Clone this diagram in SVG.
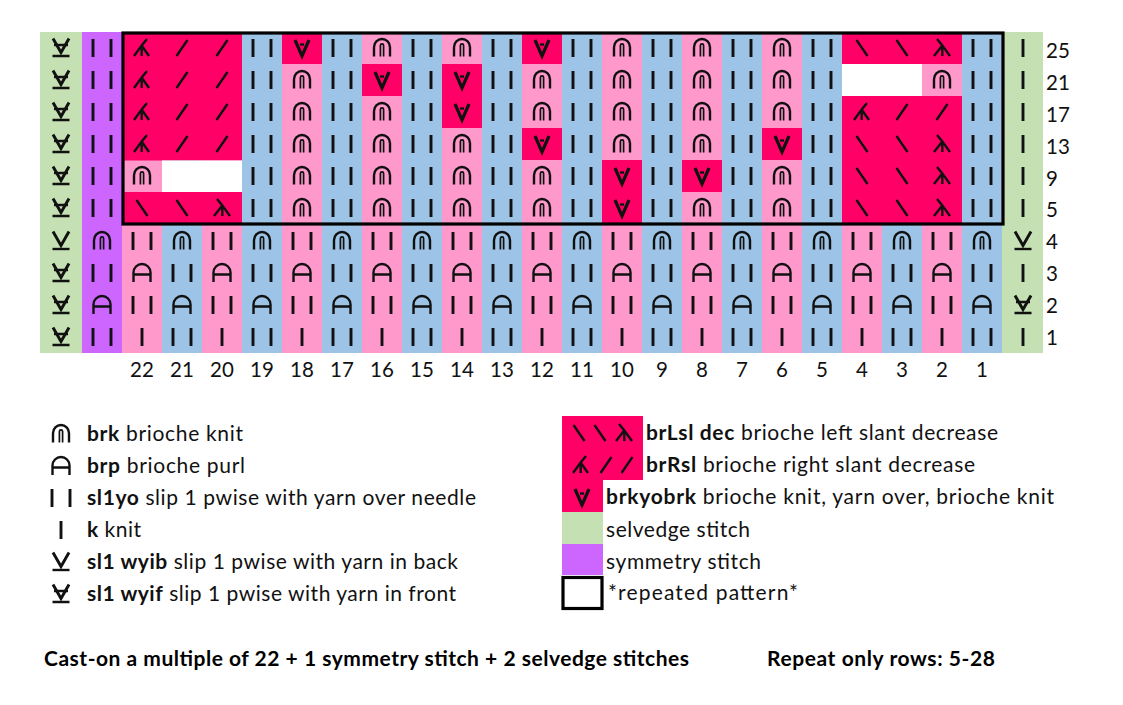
<svg xmlns="http://www.w3.org/2000/svg" width="1123" height="705" viewBox="0 0 1123 705">
<style>
text{font-family:Lato,"Noto Sans","Liberation Sans",sans-serif;font-size:21px;fill:#111}
#row-numbers text,#column-numbers text{font-size:20.5px}
.b{font-weight:700}
.bt{font-weight:700;fill:#000}
.c{text-anchor:middle}
.s{fill:none;stroke:#111;stroke-width:2.4}
.s1{fill:none;stroke:#111;stroke-width:1.7}
.s2{fill:none;stroke:#111;stroke-width:2.9}
.pink{fill:#FF99CC}.blue{fill:#9DC3E6}.red{fill:#FF0066}.white{fill:#fff}.green{fill:#C5E0B3}.purple{fill:#CC66FF}
.frame{fill:none;stroke:#000;stroke-width:3.2}
</style>
<defs>
<g id="bars"><path class="s2" d="M-9-9V9M9-9V9"/></g>
<g id="k"><path class="s2" d="M0-9V9"/></g>
<g id="brk"><path class="s" d="M-8 8.500V-1A8 8 0 0 1 8-1V8.500"/><path class="s1" d="M-1.600 8.500V-2.500A1.600 1.600 0 0 1 1.600-2.500V8.500"/></g>
<g id="brp"><path class="s" d="M-8.500 9V-.5A8.500 8.500 0 0 1 8.500-.5V9M-8.500 1.500H8.500"/></g>
<g id="wyib"><path class="s2" d="M-8-9.500L0 4.500L8-9.500"/><path class="s" d="M-8.500 8H8.500"/></g>
<g id="wyif"><path class="s2" d="M-8-9.500L0 4.500L8-9.500"/><path class="s" d="M-7-3H7M-8.500 8H8.500"/></g>
<g id="yo"><path class="s2" style="stroke-width:3.2" d="M-7-8L0 8L7-8"/><path class="s" d="M-2-3.500H2"/></g>
<g id="sl"><path class="s" d="M-5.500 8L5.500-8"/></g>
<g id="bs"><path class="s" d="M-5.500-8L5.500 8"/></g>
<g id="rdec"><path class="s" d="M-8 8L-.3 -2.500L7 8M-.3 8V-2.500L5-9"/></g>
<g id="ldec"><path class="s" d="M-8 8L.3 -2.500L8 8M.3 8V-2.500L-5-9"/></g>
<g id="oddBars"><use href="#bars" x="262"/><use href="#bars" x="342"/><use href="#bars" x="422"/><use href="#bars" x="502"/><use href="#bars" x="582"/><use href="#bars" x="662"/><use href="#bars" x="742"/><use href="#bars" x="822"/><use href="#bars" x="982"/></g>
<g id="oddBarsAll"><use href="#bars" x="182"/><use href="#oddBars"/><use href="#bars" x="902"/></g>
<g id="oddBrk"><use href="#brk" x="182"/><use href="#brk" x="262"/><use href="#brk" x="342"/><use href="#brk" x="422"/><use href="#brk" x="502"/><use href="#brk" x="582"/><use href="#brk" x="662"/><use href="#brk" x="742"/><use href="#brk" x="822"/><use href="#brk" x="902"/><use href="#brk" x="982"/></g>
<g id="oddBrp"><use href="#brp" x="182"/><use href="#brp" x="262"/><use href="#brp" x="342"/><use href="#brp" x="422"/><use href="#brp" x="502"/><use href="#brp" x="582"/><use href="#brp" x="662"/><use href="#brp" x="742"/><use href="#brp" x="822"/><use href="#brp" x="902"/><use href="#brp" x="982"/></g>
<g id="evenBars"><use href="#bars" x="142"/><use href="#bars" x="222"/><use href="#bars" x="302"/><use href="#bars" x="382"/><use href="#bars" x="462"/><use href="#bars" x="542"/><use href="#bars" x="622"/><use href="#bars" x="702"/><use href="#bars" x="782"/><use href="#bars" x="862"/><use href="#bars" x="942"/></g>
<g id="evenBrp"><use href="#brp" x="142"/><use href="#brp" x="222"/><use href="#brp" x="302"/><use href="#brp" x="382"/><use href="#brp" x="462"/><use href="#brp" x="542"/><use href="#brp" x="622"/><use href="#brp" x="702"/><use href="#brp" x="782"/><use href="#brp" x="862"/><use href="#brp" x="942"/></g>
<g id="evenK"><use href="#k" x="142"/><use href="#k" x="222"/><use href="#k" x="302"/><use href="#k" x="382"/><use href="#k" x="462"/><use href="#k" x="542"/><use href="#k" x="622"/><use href="#k" x="702"/><use href="#k" x="782"/><use href="#k" x="862"/><use href="#k" x="942"/></g>
<g id="rTriple"><use href="#rdec" x="142"/><use href="#sl" x="182"/><use href="#sl" x="222"/></g>
</defs>
<rect width="1123" height="705" fill="#fff"/>
<g id="chart-background">
<rect class="green" x="40" y="32" width="42" height="321"/>
<rect class="purple" x="82" y="32" width="40" height="321"/>
<rect class="green" x="1002" y="32" width="41" height="321"/>
<g class="pink"><rect x="122" y="32" width="40" height="321"/><rect x="202" y="32" width="40" height="321"/><rect x="282" y="32" width="40" height="321"/><rect x="362" y="32" width="40" height="321"/><rect x="442" y="32" width="40" height="321"/><rect x="522" y="32" width="40" height="321"/><rect x="602" y="32" width="40" height="321"/><rect x="682" y="32" width="40" height="321"/><rect x="762" y="32" width="40" height="321"/><rect x="842" y="32" width="40" height="321"/><rect x="922" y="32" width="40" height="321"/></g>
<g class="blue"><rect x="162" y="32" width="40" height="321"/><rect x="242" y="32" width="40" height="321"/><rect x="322" y="32" width="40" height="321"/><rect x="402" y="32" width="40" height="321"/><rect x="482" y="32" width="40" height="321"/><rect x="562" y="32" width="40" height="321"/><rect x="642" y="32" width="40" height="321"/><rect x="722" y="32" width="40" height="321"/><rect x="802" y="32" width="40" height="321"/><rect x="882" y="32" width="40" height="321"/><rect x="962" y="32" width="40" height="321"/></g>
<g class="red">
<rect x="122" y="32" width="120" height="128.500"/><rect x="122" y="192" width="120" height="33"/>
<rect x="282" y="32" width="40" height="32"/><rect x="362" y="64" width="40" height="32"/><rect x="442" y="64" width="40" height="64"/>
<rect x="522" y="32" width="40" height="32"/><rect x="522" y="128" width="40" height="32"/><rect x="602" y="160" width="40" height="65"/>
<rect x="682" y="160" width="40" height="32"/><rect x="762" y="128" width="40" height="32"/>
<rect x="842" y="32" width="120" height="32"/><rect x="842" y="96" width="120" height="129"/>
</g>
<g class="white"><rect x="162" y="160.500" width="80" height="31.500"/><rect x="842" y="64" width="80" height="32"/></g>
</g>
<g id="row-25" transform="translate(0 48)"><use href="#wyif" x="61"/><use href="#bars" x="102"/><use href="#rTriple"/><use href="#oddBars"/><use href="#yo" x="302"/><use href="#brk" x="382"/><use href="#brk" x="462"/><use href="#yo" x="542"/><use href="#brk" x="622"/><use href="#brk" x="702"/><use href="#brk" x="782"/><use href="#bs" x="862"/><use href="#bs" x="902"/><use href="#ldec" x="942"/><use href="#k" x="1023"/></g>
<g id="row-21" transform="translate(0 80)"><use href="#wyif" x="61"/><use href="#bars" x="102"/><use href="#rTriple"/><use href="#oddBars"/><use href="#brk" x="302"/><use href="#yo" x="382"/><use href="#yo" x="462"/><use href="#brk" x="542"/><use href="#brk" x="622"/><use href="#brk" x="702"/><use href="#brk" x="782"/><use href="#brk" x="942"/><use href="#k" x="1023"/></g>
<g id="row-17" transform="translate(0 112)"><use href="#wyif" x="61"/><use href="#bars" x="102"/><use href="#rTriple"/><use href="#oddBars"/><use href="#brk" x="302"/><use href="#brk" x="382"/><use href="#yo" x="462"/><use href="#brk" x="542"/><use href="#brk" x="622"/><use href="#brk" x="702"/><use href="#brk" x="782"/><use href="#rdec" x="862"/><use href="#sl" x="902"/><use href="#sl" x="942"/><use href="#k" x="1023"/></g>
<g id="row-13" transform="translate(0 144)"><use href="#wyif" x="61"/><use href="#bars" x="102"/><use href="#rTriple"/><use href="#oddBars"/><use href="#brk" x="302"/><use href="#brk" x="382"/><use href="#brk" x="462"/><use href="#yo" x="542"/><use href="#brk" x="622"/><use href="#brk" x="702"/><use href="#yo" x="782"/><use href="#bs" x="862"/><use href="#bs" x="902"/><use href="#ldec" x="942"/><use href="#k" x="1023"/></g>
<g id="row-9" transform="translate(0 176)"><use href="#wyif" x="61"/><use href="#bars" x="102"/><use href="#brk" x="142"/><use href="#oddBars"/><use href="#brk" x="302"/><use href="#brk" x="382"/><use href="#brk" x="462"/><use href="#brk" x="542"/><use href="#yo" x="622"/><use href="#yo" x="702"/><use href="#brk" x="782"/><use href="#bs" x="862"/><use href="#bs" x="902"/><use href="#ldec" x="942"/><use href="#k" x="1023"/></g>
<g id="row-5" transform="translate(0 208)"><use href="#wyif" x="61"/><use href="#bars" x="102"/><use href="#bs" x="142"/><use href="#bs" x="182"/><use href="#ldec" x="222"/><use href="#oddBars"/><use href="#brk" x="302"/><use href="#brk" x="382"/><use href="#brk" x="462"/><use href="#brk" x="542"/><use href="#yo" x="622"/><use href="#brk" x="702"/><use href="#brk" x="782"/><use href="#bs" x="862"/><use href="#bs" x="902"/><use href="#ldec" x="942"/><use href="#k" x="1023"/></g>
<g id="row-4" transform="translate(0 241)"><use href="#wyib" x="61"/><use href="#brk" x="102"/><use href="#evenBars"/><use href="#oddBrk"/><use href="#wyib" x="1023"/></g>
<g id="row-3" transform="translate(0 273)"><use href="#wyif" x="61"/><use href="#bars" x="102"/><use href="#evenBrp"/><use href="#oddBarsAll"/><use href="#k" x="1023"/></g>
<g id="row-2" transform="translate(0 305)"><use href="#wyif" x="61"/><use href="#brp" x="102"/><use href="#evenBars"/><use href="#oddBrp"/><use href="#wyif" x="1023"/></g>
<g id="row-1" transform="translate(0 337)"><use href="#wyif" x="61"/><use href="#bars" x="102"/><use href="#evenK"/><use href="#oddBarsAll"/><use href="#k" x="1023"/></g>
<rect id="repeat-frame" class="frame" x="123" y="33" width="880" height="191"/>
<g id="row-numbers">
<text x="1046" y="58">25</text><text x="1046" y="90">21</text><text x="1046" y="122">17</text><text x="1046" y="154">13</text><text x="1046" y="186">9</text><text x="1046" y="217">5</text><text x="1046" y="249">4</text><text x="1046" y="281">3</text><text x="1046" y="313">2</text><text x="1046" y="345">1</text>
</g>
<g id="column-numbers">
<text class="c" x="142" y="377">22</text><text class="c" x="182" y="377">21</text><text class="c" x="222" y="377">20</text><text class="c" x="262" y="377">19</text><text class="c" x="302" y="377">18</text><text class="c" x="342" y="377">17</text><text class="c" x="382" y="377">16</text><text class="c" x="422" y="377">15</text><text class="c" x="462" y="377">14</text><text class="c" x="502" y="377">13</text><text class="c" x="542" y="377">12</text><text class="c" x="582" y="377">11</text><text class="c" x="622" y="377">10</text><text class="c" x="662" y="377">9</text><text class="c" x="702" y="377">8</text><text class="c" x="742" y="377">7</text><text class="c" x="782" y="377">6</text><text class="c" x="822" y="377">5</text><text class="c" x="862" y="377">4</text><text class="c" x="902" y="377">3</text><text class="c" x="942" y="377">2</text><text class="c" x="982" y="377">1</text>
</g>
<g id="legend-left">
<use href="#brk" x="61" y="434"/><use href="#brp" x="61" y="466"/><use href="#bars" x="61" y="498"/><use href="#k" x="61" y="530"/><use href="#wyib" x="61" y="562"/><use href="#wyif" x="61" y="594"/>
<text x="87" y="441" textLength="156" lengthAdjust="spacing"><tspan class="b">brk</tspan> brioche knit</text>
<text x="87" y="473" textLength="158" lengthAdjust="spacing"><tspan class="b">brp</tspan> brioche purl</text>
<text x="87" y="505" textLength="389" lengthAdjust="spacing"><tspan class="b">sl1yo</tspan> slip 1 pwise with yarn over needle</text>
<text x="87" y="537" textLength="54" lengthAdjust="spacing"><tspan class="b">k</tspan> knit</text>
<text x="87" y="569" textLength="371" lengthAdjust="spacing"><tspan class="b">sl1 wyib</tspan> slip 1 pwise with yarn in back</text>
<text x="87" y="601" textLength="369" lengthAdjust="spacing"><tspan class="b">sl1 wyif</tspan> slip 1 pwise with yarn in front</text>
</g>
<g id="legend-right">
<rect class="red" x="562" y="416" width="81" height="64"/><rect class="red" x="562" y="480" width="41" height="32"/>
<rect class="green" x="562" y="512" width="41" height="32"/><rect class="purple" x="562" y="544" width="41" height="31"/>
<rect class="frame" x="563" y="577.500" width="39" height="31"/>
<use href="#bs" x="579" y="433"/><use href="#bs" x="600" y="433"/><use href="#ldec" x="624" y="433"/>
<use href="#rdec" x="581" y="465"/><use href="#sl" x="606" y="465"/><use href="#sl" x="627" y="465"/>
<use href="#yo" x="582" y="497"/>
<text x="646" y="440" textLength="352" lengthAdjust="spacing"><tspan class="b">brLsl dec</tspan> brioche left slant decrease</text>
<text x="646" y="472" textLength="329" lengthAdjust="spacing"><tspan class="b">brRsl</tspan> brioche right slant decrease</text>
<text x="606" y="504" textLength="448" lengthAdjust="spacing"><tspan class="b">brkyobrk</tspan> brioche knit, yarn over, brioche knit</text>
<text x="606" y="537" textLength="144" lengthAdjust="spacing">selvedge stitch</text>
<text x="606" y="569" textLength="155" lengthAdjust="spacing">symmetry stitch</text>
<text x="608" y="600" textLength="190" lengthAdjust="spacing">*repeated pattern*</text>
</g>
<g id="notes">
<text class="bt" x="44" y="666" textLength="645" lengthAdjust="spacing">Cast-on a multiple of 22 + 1 symmetry stitch + 2 selvedge stitches</text>
<text class="bt" x="767" y="666" textLength="228" lengthAdjust="spacing">Repeat only rows: 5-28</text>
</g>
</svg>
